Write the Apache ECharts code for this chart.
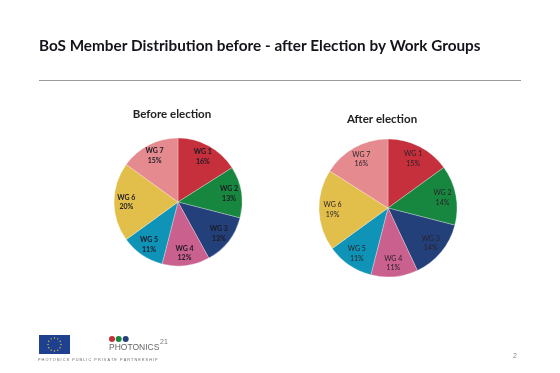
<!DOCTYPE html>
<html>
<head>
<meta charset="utf-8">
<script src="https://cdn.jsdelivr.net/npm/echarts@6/dist/echarts.min.js"></script>
<style>
html, body { margin: 0; background: #fff; }
#chart { width: 560px; height: 373px; }
</style>
</head>
<body>
<div id="chart"></div>
<script>
const groups = ['WG 1', 'WG 2', 'WG 3', 'WG 4', 'WG 5', 'WG 6', 'WG 7']
const before = [16, 13, 13, 12, 11, 20, 15]
const after = [15, 14, 14, 11, 11, 19, 16]
const colors = ['#c5303c', '#17873f', '#23407a', '#c9608e', '#0f94b8', '#e2bf4a', '#e58a8e']

const font = 'Lato, "Open Sans", sans-serif'
const chart = echarts.init(document.getElementById('chart'))

const toData = values => groups.map((name, i) => ({ name, value: values[i] }))

// one visible pie, plus a clear ring on top that only carries the labels
// so they sit further out than the 'inside' position of a full pie
const pie = (values, center, r, weight, labelColor) => [{
  type: 'pie',
  center,
  radius: [0, r],
  startAngle: 90,
  silent: true,
  animation: false,
  color: colors,
  itemStyle: { borderColor: 'rgba(255,255,255,0.55)', borderWidth: 0.5 },
  label: { show: false },
  labelLine: { show: false },
  data: toData(values)
}, {
  type: 'pie',
  center,
  radius: [r * 0.52, r],
  startAngle: 90,
  silent: true,
  animation: false,
  itemStyle: { color: 'transparent' },
  label: {
    show: true,
    position: 'inside',
    formatter: p => `${p.name}\n${p.value}%`,
    fontFamily: font,
    fontSize: 7,
    fontWeight: weight,
    lineHeight: 9.5,
    color: labelColor
  },
  labelLine: { show: false },
  data: toData(values)
}]

// EU flag stars
const stars = []
for (let i = 0; i < 12; i++) {
  const a = i / 12 * Math.PI * 2
  stars.push({
    type: 'circle',
    shape: { cx: 54.5 + Math.cos(a) * 6.5, cy: 344.5 + Math.sin(a) * 6.5, r: 0.7 },
    style: { fill: '#d8cf4a' }
  })
}

const option = {
  backgroundColor: '#fff',
  animation: false,
  title: [{
    text: 'BoS Member Distribution before - after Election by Work Groups',
    left: 34,
    top: 34,
    textStyle: { fontFamily: font, fontSize: 15.3, fontWeight: 'bold', color: '#14141c' }
  }, {
    text: 'Before election',
    left: 167,
    top: 103,
    textAlign: 'center',
    textStyle: { fontFamily: font, fontSize: 11.5, fontWeight: 'bold', color: '#222' }
  }, {
    text: 'After election',
    left: 377,
    top: 108,
    textAlign: 'center',
    textStyle: { fontFamily: font, fontSize: 11.5, fontWeight: 'bold', color: '#222' }
  }],
  series: [
    ...pie(before, [178, 202], 64, 'bold', '#1c1a24'),
    ...pie(after, [388, 208], 69, 'normal', '#2a2228')
  ],
  graphic: [
    { type: 'line', shape: { x1: 39, y1: 80.5, x2: 521, y2: 80.5 }, style: { stroke: '#9a9a9a', lineWidth: 1 } },
    { type: 'rect', shape: { x: 39, y: 335, width: 31, height: 19 }, style: { fill: '#1f3f8f' } },
    ...stars,
    { type: 'circle', shape: { cx: 112, cy: 339, r: 3 }, style: { fill: '#c5303c' } },
    { type: 'circle', shape: { cx: 118.7, cy: 339, r: 3 }, style: { fill: '#17873f' } },
    { type: 'circle', shape: { cx: 125.7, cy: 339, r: 3 }, style: { fill: '#23407a' } },
    { type: 'text', style: { x: 109, y: 343, text: 'PHOTONICS', fill: '#666', font: '8.5px "Liberation Sans", sans-serif' } },
    { type: 'text', style: { x: 160, y: 339, text: '21', fill: '#777', font: '7px "Liberation Sans", sans-serif' } },
    { type: 'text', style: { x: 38, y: 357.5, text: 'P H O T O N I C S   P U B L I C   P R I V A T E   P A R T N E R S H I P', fill: '#666', font: '3.8px "Liberation Sans", sans-serif' } },
    { type: 'text', style: { x: 513, y: 353, text: '2', fill: '#888', font: '7px "Liberation Sans", sans-serif' } }
  ]
}

chart.setOption(option)
</script>
</body>
</html>
